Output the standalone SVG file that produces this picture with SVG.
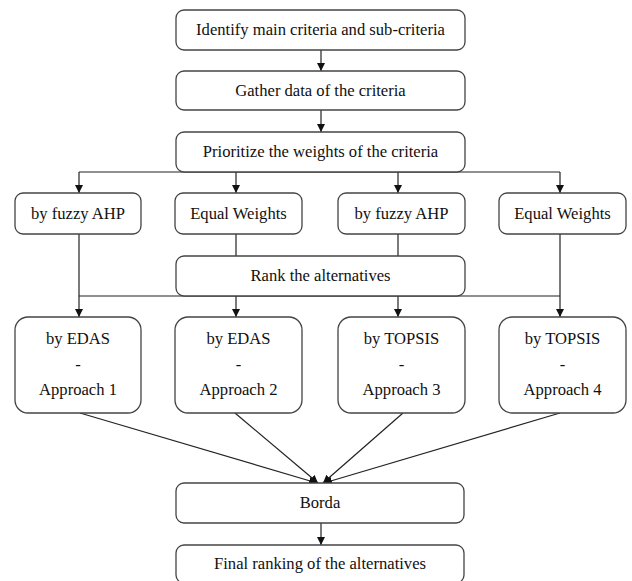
<svg xmlns="http://www.w3.org/2000/svg" width="632" height="581" viewBox="0 0 632 581">
<style>
.box{fill:#fff;stroke:#444;stroke-width:1.3}
.t{font-family:"Liberation Serif","Times New Roman",serif;font-size:16.6px;fill:#111;text-anchor:middle}
.c{fill:none;stroke:#222;stroke-width:1.2}
</style>
<defs>
<marker id="ar" viewBox="0 0 10 10" refX="10" refY="5" markerWidth="8" markerHeight="8" markerUnits="userSpaceOnUse" orient="auto">
<path d="M0,0 L10,5 L0,10 z" fill="#111"/>
</marker>
</defs>
<rect width="632" height="581" fill="#fff"/>
<g id="connectors">
<line class="c" x1="321" y1="50" x2="321" y2="71" marker-end="url(#ar)"/>
<line class="c" x1="321" y1="110" x2="321" y2="132" marker-end="url(#ar)"/>
<polyline class="c" points="79,172 560,172"/>
<line class="c" x1="79" y1="172" x2="79" y2="193" marker-end="url(#ar)"/>
<line class="c" x1="236" y1="172" x2="236" y2="193" marker-end="url(#ar)"/>
<line class="c" x1="398" y1="172" x2="398" y2="193" marker-end="url(#ar)"/>
<line class="c" x1="560" y1="172" x2="560" y2="193" marker-end="url(#ar)"/>
<line class="c" x1="236" y1="234" x2="236" y2="256"/>
<line class="c" x1="398" y1="234" x2="398" y2="256"/>
<line class="c" x1="79" y1="234" x2="79" y2="317" marker-end="url(#ar)"/>
<line class="c" x1="560" y1="234" x2="560" y2="317" marker-end="url(#ar)"/>
<polyline class="c" points="79,296 560,296"/>
<line class="c" x1="236" y1="296" x2="236" y2="317" marker-end="url(#ar)"/>
<line class="c" x1="398" y1="296" x2="398" y2="317" marker-end="url(#ar)"/>
<line class="c" x1="80" y1="413" x2="317" y2="483" marker-end="url(#ar)"/>
<line class="c" x1="235" y1="413" x2="318" y2="483" marker-end="url(#ar)"/>
<line class="c" x1="403" y1="413" x2="323" y2="483" marker-end="url(#ar)"/>
<line class="c" x1="560" y1="413" x2="324" y2="483" marker-end="url(#ar)"/>
<line class="c" x1="321" y1="523" x2="321" y2="545" marker-end="url(#ar)"/>
</g>
<g id="identify"><rect class="box" x="176" y="10" width="289" height="40" rx="8"/><text class="t" x="320.5" y="35">Identify main criteria and sub-criteria</text></g>
<g id="gather"><rect class="box" x="176" y="71" width="289" height="39" rx="8"/><text class="t" x="320.5" y="96">Gather data of the criteria</text></g>
<g id="prioritize"><rect class="box" x="176" y="132" width="289" height="40" rx="8"/><text class="t" x="320.5" y="157">Prioritize the weights of the criteria</text></g>
<g id="fahp1"><rect class="box" x="15" y="193" width="126" height="41" rx="8"/><text class="t" x="78" y="219">by fuzzy AHP</text></g>
<g id="eq1"><rect class="box" x="175" y="193" width="127" height="41" rx="8"/><text class="t" x="238.5" y="219">Equal Weights</text></g>
<g id="fahp2"><rect class="box" x="338" y="193" width="127" height="41" rx="8"/><text class="t" x="401.5" y="219">by fuzzy AHP</text></g>
<g id="eq2"><rect class="box" x="499" y="193" width="127" height="41" rx="8"/><text class="t" x="562.5" y="219">Equal Weights</text></g>
<g id="rank"><rect class="box" x="176" y="256" width="289" height="40" rx="8"/><text class="t" x="320.5" y="281">Rank the alternatives</text></g>
<g id="a1"><rect class="box" x="15" y="317" width="126" height="96" rx="13"/><text class="t" x="78" y="344">by EDAS</text><text class="t" x="78" y="370">-</text><text class="t" x="78" y="395">Approach 1</text></g>
<g id="a2"><rect class="box" x="175" y="317" width="127" height="96" rx="13"/><text class="t" x="238.5" y="344">by EDAS</text><text class="t" x="238.5" y="370">-</text><text class="t" x="238.5" y="395">Approach 2</text></g>
<g id="a3"><rect class="box" x="338" y="317" width="127" height="96" rx="13"/><text class="t" x="401.5" y="344">by TOPSIS</text><text class="t" x="401.5" y="370">-</text><text class="t" x="401.5" y="395">Approach 3</text></g>
<g id="a4"><rect class="box" x="499" y="317" width="127" height="96" rx="13"/><text class="t" x="562.5" y="344">by TOPSIS</text><text class="t" x="562.5" y="370">-</text><text class="t" x="562.5" y="395">Approach 4</text></g>
<g id="borda"><rect class="box" x="176" y="483" width="288" height="40" rx="8"/><text class="t" x="320" y="508">Borda</text></g>
<g id="final"><rect class="box" x="176" y="545" width="288" height="38" rx="8"/><text class="t" x="320" y="569">Final ranking of the alternatives</text></g>
</svg>
